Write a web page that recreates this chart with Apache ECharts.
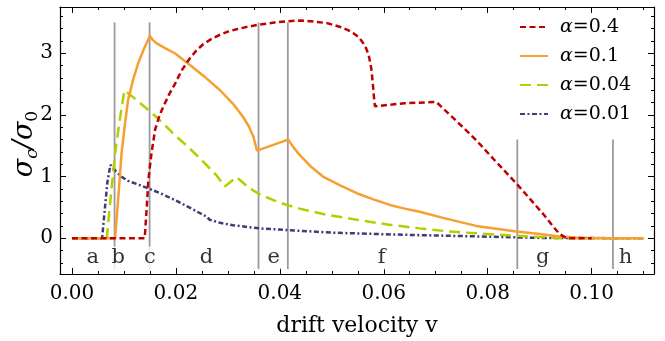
<!DOCTYPE html>
<html><head><meta charset="utf-8">
<script src="https://cdn.jsdelivr.net/npm/echarts@6/dist/echarts.min.js"></script>
<style>html,body{margin:0;padding:0;background:#fff}#c{width:665px;height:341px}</style>
</head><body><div id="c"></div>
<script>
// ---------- data ----------
const seriesNames = ['α=0.4', 'α=0.1', 'α=0.04', 'α=0.01'];

const v04 = [0, 0.0140, 0.01436, 0.0147, 0.0153, 0.0160, 0.0168, 0.0175, 0.0188, 0.0198, 0.0211, 0.0227, 0.0240, 0.0253, 0.0270, 0.0285, 0.0300, 0.0317, 0.0338, 0.0358, 0.0390, 0.0416, 0.0440, 0.0458, 0.0490, 0.0515, 0.0530, 0.0541, 0.0552, 0.0560, 0.0566, 0.0571, 0.0576, 0.0579, 0.0581, 0.0583, 0.0640, 0.0701, 0.0740, 0.0778, 0.0815, 0.0855, 0.0906, 0.0925, 0.0938, 0.0950, 0.0960, 0.1000];
const s04 = [0, 0, 0.46, 0.94, 1.38, 1.76, 1.98, 2.12, 2.35, 2.50, 2.72, 2.92, 3.05, 3.15, 3.24, 3.30, 3.35, 3.39, 3.43, 3.46, 3.50, 3.52, 3.53, 3.52, 3.49, 3.43, 3.38, 3.33, 3.26, 3.17, 3.08, 2.97, 2.75, 2.50, 2.30, 2.14, 2.19, 2.21, 1.90, 1.59, 1.25, 0.89, 0.40, 0.20, 0.07, 0.01, 0, 0];

const v01 = [0, 0.0083, 0.0090, 0.00955, 0.0102, 0.0108, 0.0118, 0.01275, 0.0139, 0.0150, 0.0155, 0.0163, 0.0180, 0.0198, 0.0227, 0.0255, 0.0285, 0.0310, 0.0329, 0.0340, 0.0349, 0.0353, 0.0356, 0.0416, 0.0425, 0.0438, 0.0460, 0.0483, 0.0515, 0.0548, 0.0580, 0.0612, 0.0640, 0.0669, 0.0714, 0.0778, 0.0855, 0.0900, 0.0938, 0.0970, 0.1000, 0.1100];
const s01 = [0, 0, 0.75, 1.38, 1.85, 2.24, 2.58, 2.84, 3.08, 3.28, 3.22, 3.16, 3.08, 3.00, 2.81, 2.62, 2.40, 2.18, 1.97, 1.82, 1.65, 1.52, 1.42, 1.60, 1.49, 1.35, 1.16, 1.00, 0.86, 0.73, 0.63, 0.54, 0.48, 0.43, 0.33, 0.20, 0.11, 0.07, 0.03, 0.01, 0, 0];

const v004 = [0, 0.0067, 0.0075, 0.0083, 0.0092, 0.0101, 0.0113, 0.0147, 0.0175, 0.0198, 0.0225, 0.0253, 0.0278, 0.0294, 0.0317, 0.0340, 0.0362, 0.0390, 0.0413, 0.0438, 0.0490, 0.0548, 0.0610, 0.0669, 0.0725, 0.0778, 0.0855, 0.0940, 0.1100];
const s004 = [0, 0, 0.70, 1.38, 1.92, 2.40, 2.32, 2.08, 1.87, 1.67, 1.47, 1.24, 1.02, 0.84, 0.99, 0.82, 0.71, 0.61, 0.54, 0.48, 0.38, 0.30, 0.22, 0.16, 0.11, 0.08, 0.04, 0, 0];

const v001 = [0, 0.0058, 0.0063, 0.0068, 0.0074, 0.0083, 0.0095, 0.0108, 0.0147, 0.0175, 0.0198, 0.0230, 0.0259, 0.0265, 0.0285, 0.0310, 0.0360, 0.0419, 0.0502, 0.0580, 0.0669, 0.0778, 0.0900, 0.1100];
const s001 = [0, 0, 0.45, 0.90, 1.19, 1.10, 1.00, 0.93, 0.81, 0.71, 0.62, 0.48, 0.35, 0.30, 0.25, 0.21, 0.16, 0.13, 0.09, 0.07, 0.05, 0.03, 0.005, 0];

const xTickLabels = [0, 0.02, 0.04, 0.06, 0.08, 0.10];
const xMinorTicks = [0.005, 0.01, 0.015, 0.025, 0.03, 0.035, 0.045, 0.05, 0.055, 0.065, 0.07, 0.075, 0.085, 0.09, 0.095, 0.105, 0.11];
const yTickLabels = [0, 1, 2, 3];
const yMinorTicks = [-0.4, -0.2, 0.2, 0.4, 0.6, 0.8, 1.2, 1.4, 1.6, 1.8, 2.2, 2.4, 2.6, 2.8, 3.2, 3.4, 3.6];

const regionLetters = ['a', 'b', 'c', 'd', 'e', 'f', 'g', 'h'];
const regionLetterV = [0.0040, 0.0089, 0.0150, 0.0259, 0.0388, 0.0596, 0.0906, 0.1065];
const regionLetterS = -0.32;

const boundaryV = [0.0082, 0.01494, 0.0359, 0.04154, 0.0857, 0.1041];
const boundaryTop = [3.5, 3.5, 3.5, 3.5, 1.6, 1.6];
const boundaryBottom = -0.5;

// ---------- styles ----------
const FONT = 'DejaVu Serif';
const colors = ['#C00000', '#F5A030', '#B4CF00', '#3A3F75'];
const dashes = [[6, 3.5], 'solid', [11, 6], [5, 2.5, 2, 2.5]];
const widths = [2.5, 2.5, 2.5, 2.5];
const xMin = -0.0023, xMax = 0.112, yMin = -0.58, yMax = 3.75;

const zip = (a, b) => a.map((v, i) => [v, b[i]]);

function xAx(pos, vals, len, line, labels) {
  return {
    type: 'value', gridIndex: 0, position: pos, min: xMin, max: xMax,
    axisLine: { show: line, onZero: false, lineStyle: { color: '#000', width: 1.2 } },
    axisTick: { show: true, inside: true, length: len, customValues: vals, lineStyle: { color: '#000', width: 1 } },
    axisLabel: labels ? { show: true, customValues: vals, formatter: v => v.toFixed(2), margin: 10,
      fontFamily: FONT, fontSize: 20, color: '#000' } : { show: false },
    splitLine: { show: false }
  };
}
function yAx(pos, vals, len, line, labels) {
  return {
    type: 'value', gridIndex: 0, position: pos, min: yMin, max: yMax,
    axisLine: { show: line, onZero: false, lineStyle: { color: '#000', width: 1.2 } },
    axisTick: { show: true, inside: true, length: len, customValues: vals, lineStyle: { color: '#000', width: 1 } },
    axisLabel: labels ? { show: true, customValues: vals, formatter: v => String(Math.round(v)), margin: 7,
      fontFamily: FONT, fontSize: 20, color: '#000' } : { show: false },
    splitLine: { show: false }
  };
}

const xAxes = [
  xAx('bottom', xTickLabels, 6, true, true),
  xAx('bottom', xMinorTicks, 3, false, false),
  xAx('top', xTickLabels, 6, true, false),
  xAx('top', xMinorTicks, 3, false, false)
];
Object.assign(xAxes[0], {
  name: 'drift velocity v', nameLocation: 'middle', nameGap: 41,
  nameTextStyle: { fontFamily: FONT, fontSize: 22, color: '#000' }
});
const yAxes = [
  yAx('left', yTickLabels, 6, true, true),
  yAx('left', yMinorTicks, 3, false, false),
  yAx('right', yTickLabels, 6, true, false),
  yAx('right', yMinorTicks, 3, false, false)
];

const series = [];
boundaryV.forEach((v, i) => {
  series.push({
    type: 'line', data: [[v, boundaryBottom], [v, boundaryTop[i]]], symbol: 'none', silent: true,
    lineStyle: { color: '#9D99A2', width: 1.8 }, z: 1
  });
});
const curveV = [v04, v01, v004, v001];
const curveS = [s04, s01, s004, s001];
seriesNames.forEach((n, i) => {
  series.push({
    type: 'line', name: n, data: zip(curveV[i], curveS[i]), symbol: 'none', showSymbol: false,
    lineStyle: { color: colors[i], width: widths[i], type: dashes[i] }, itemStyle: { color: colors[i] },
    z: 2 + (3 - i), clip: true
  });
});
series.push({
  type: 'scatter', silent: true, symbolSize: 1, itemStyle: { color: 'rgba(0,0,0,0)' },
  data: regionLetters.map((l, i) => ({ value: [regionLetterV[i], regionLetterS], name: l })),
  label: { show: true, position: 'inside', formatter: '{b}', fontFamily: FONT, fontSize: 21, color: '#000',
    backgroundColor: '#fff', padding: [1, 1] },
  z: 10
});

const chart = echarts.init(document.getElementById('c'), null, { renderer: 'canvas' });
chart.setOption({
  animation: false,
  backgroundColor: '#fff',
  grid: { left: 60, right: 11, top: 7, bottom: 67, containLabel: false, outerBoundsMode: 'none' },
  xAxis: xAxes,
  yAxis: yAxes,
  graphic: [{
    type: 'text', x: 25, y: 144, rotation: Math.PI / 2, silent: true,
    style: {
      text: '{s|σ}{si|c}{s|/σ}{sub|0}', align: 'center', verticalAlign: 'middle', fill: '#000',
      rich: {
        s: { fontFamily: FONT, fontStyle: 'italic', fontSize: 27, lineHeight: 32, fill: '#000' },
        si: { fontFamily: FONT, fontStyle: 'italic', fontSize: 17, lineHeight: 17, verticalAlign: 'bottom', fill: '#000' },
        sub: { fontFamily: FONT, fontSize: 17, lineHeight: 17, verticalAlign: 'bottom', fill: '#000' }
      }
    }
  }],
  legend: {
    data: seriesNames, orient: 'vertical', left: 514, top: 12, itemWidth: 28, itemHeight: 14, itemGap: 9,
    itemStyle: { opacity: 0 },
    formatter: n => '{i|α}' + n.slice(1),
    textStyle: { fontFamily: FONT, fontSize: 19, color: '#000', lineHeight: 20, padding: [0, 0, 0, 7],
      rich: { i: { fontFamily: FONT, fontStyle: 'italic', fontSize: 19, color: '#000' } } }
  },
  series: series
});
</script></body></html>
